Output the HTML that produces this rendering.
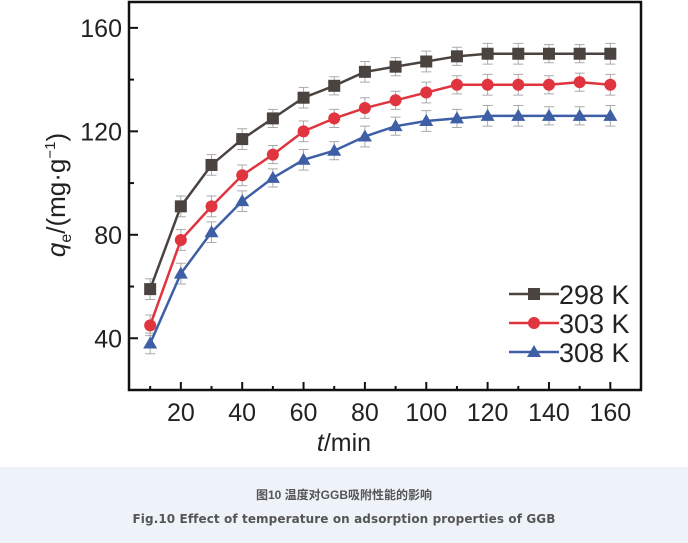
<!DOCTYPE html>
<html><head><meta charset="utf-8"><style>
body{margin:0;width:688px;height:543px;background:#fff;overflow:hidden;font-family:"Liberation Sans",sans-serif}
#cap{position:absolute;left:0;top:467px;width:688px;height:76px;background:#eef3fa;color:#555;text-align:center;font-weight:bold}
#c1{position:absolute;top:19px;width:100%;font:bold 12px "Liberation Sans","Noto Sans CJK SC",sans-serif}
#c2{position:absolute;top:45px;width:100%;font:bold 12px "DejaVu Sans",sans-serif;letter-spacing:0.1px}
</style></head><body>
<svg id="chart" width="688" height="467" style="position:absolute;left:0;top:0" font-family="Liberation Sans, sans-serif"></svg>
<div id="cap">
<div id="c1">图10 温度对GGB吸附性能的影响</div>
<div id="c2">Fig.10 Effect of temperature on adsorption properties of GGB</div>
</div>
<script>
const times=[10,20,30,40,50,60,70,80,90,100,110,120,130,140,150,160];
const s298=[59,91,107,117,125,133,137.6,143,145,147,149,150,150,150,150,150];
const s303=[45,78,91,103,111,120,125,129,132,135,138,138,138,138,139,138];
const s308=[38,65,81,93,102,109,112.5,118,122,124,125,126,126,126,126,126];
const errs=[4,4,4,4,3.5,4,3.5,4,3.5,4,3.5,4,4,3.5,3.5,4];
const xTicks=[20,40,60,80,100,120,140,160];
const yTicks=[40,80,120,160];
const L=129,R=641,T=2,B=390;
const X=v=>L+(v-3.1)*(R-L)/(170-3.1);
const Y=v=>B-(v-20)*(B-T)/(170-20);
const svg=document.getElementById('chart');
const NS='http://www.w3.org/2000/svg';
function mk(t,a,p){const e=document.createElementNS(NS,t);for(const k in a)e.setAttribute(k,a[k]);(p||svg).appendChild(e);return e;}
let e;
e=mk('rect',{x:L,y:T,width:R-L,height:B-T,fill:'none',stroke:'#111','stroke-width':2.5});


for(let v=10;v<=160;v+=10){e=mk('line',{x1:X(v),x2:X(v),y1:B,y2:B-(v%20?4:8),stroke:'#111','stroke-width':2});

}
xTicks.forEach(v=>{e=mk('text',{x:X(v),y:B+31,'font-size':25,'text-anchor':'middle',fill:'#222'});e.textContent=v;

});
for(let v=40;v<=160;v+=20){e=mk('line',{x1:L,x2:L+(v%40?5:9),y1:Y(v),y2:Y(v),stroke:'#111','stroke-width':2});

}
yTicks.forEach(v=>{e=mk('text',{x:L-7,y:Y(v)+9,'font-size':25,'text-anchor':'end',fill:'#222'});e.textContent=v;

});
e=mk('text',{x:344,y:451,'font-size':25,'text-anchor':'middle',fill:'#222'});
e.innerHTML='<tspan font-style="italic">t</tspan>/min';


e=mk('text',{transform:'translate(65,195) rotate(-90)','font-size':26,'text-anchor':'middle',fill:'#222'});
e.innerHTML='<tspan font-style="italic">q</tspan><tspan font-size="16" dy="6">e</tspan><tspan dy="-6">/(mg·g</tspan><tspan font-size="15" dy="-10">−1</tspan><tspan dy="10">)</tspan>';


function marker(shape,x,y,c,g){
 if(shape==='sq')return mk('rect',{x:x-6,y:y-6,width:12,height:12,fill:c},g);
 if(shape==='ci')return mk('circle',{cx:x,cy:y,r:6,fill:c},g);
 return mk('polygon',{points:`${x},${y-7} ${x-7},${y+5} ${x+7},${y+5}`,fill:c},g);
}
const series=[[s298,'#4a4340','sq','298 K','series-298k'],[s303,'#e0343f','ci','303 K','series-303k'],[s308,'#3e5fa6','tr','308 K','series-308k']];
series.forEach(([d,c,sh,lab,nm],si)=>{
 const g=mk('g',{});
 
 
 d.forEach((v,i)=>{const x=X(times[i]);
  mk('path',{d:`M${x},${Y(v+errs[i])}V${Y(v-errs[i])}M${x-5},${Y(v+errs[i])}h10M${x-5},${Y(v-errs[i])}h10`,stroke:'#aaa','stroke-width':1,fill:'none'},g);});
 e=mk('polyline',{points:d.map((v,i)=>X(times[i])+','+Y(v)).join(' '),fill:'none',stroke:c,'stroke-width':2.5},g);
 
 
 d.forEach((v,i)=>{e=marker(sh,X(times[i]),Y(v),c,g);
 
 });
 const ly=294+si*29;
 const lg=mk('g',{});
 
 
 mk('line',{x1:509,x2:559,y1:ly,y2:ly,stroke:c,'stroke-width':2.5},lg);
 marker(sh,534,ly,c,lg);
 const t=mk('text',{x:559,y:ly+10,'font-size':27,fill:'#222'},lg);t.textContent=lab;
});
</script>
</body></html>
